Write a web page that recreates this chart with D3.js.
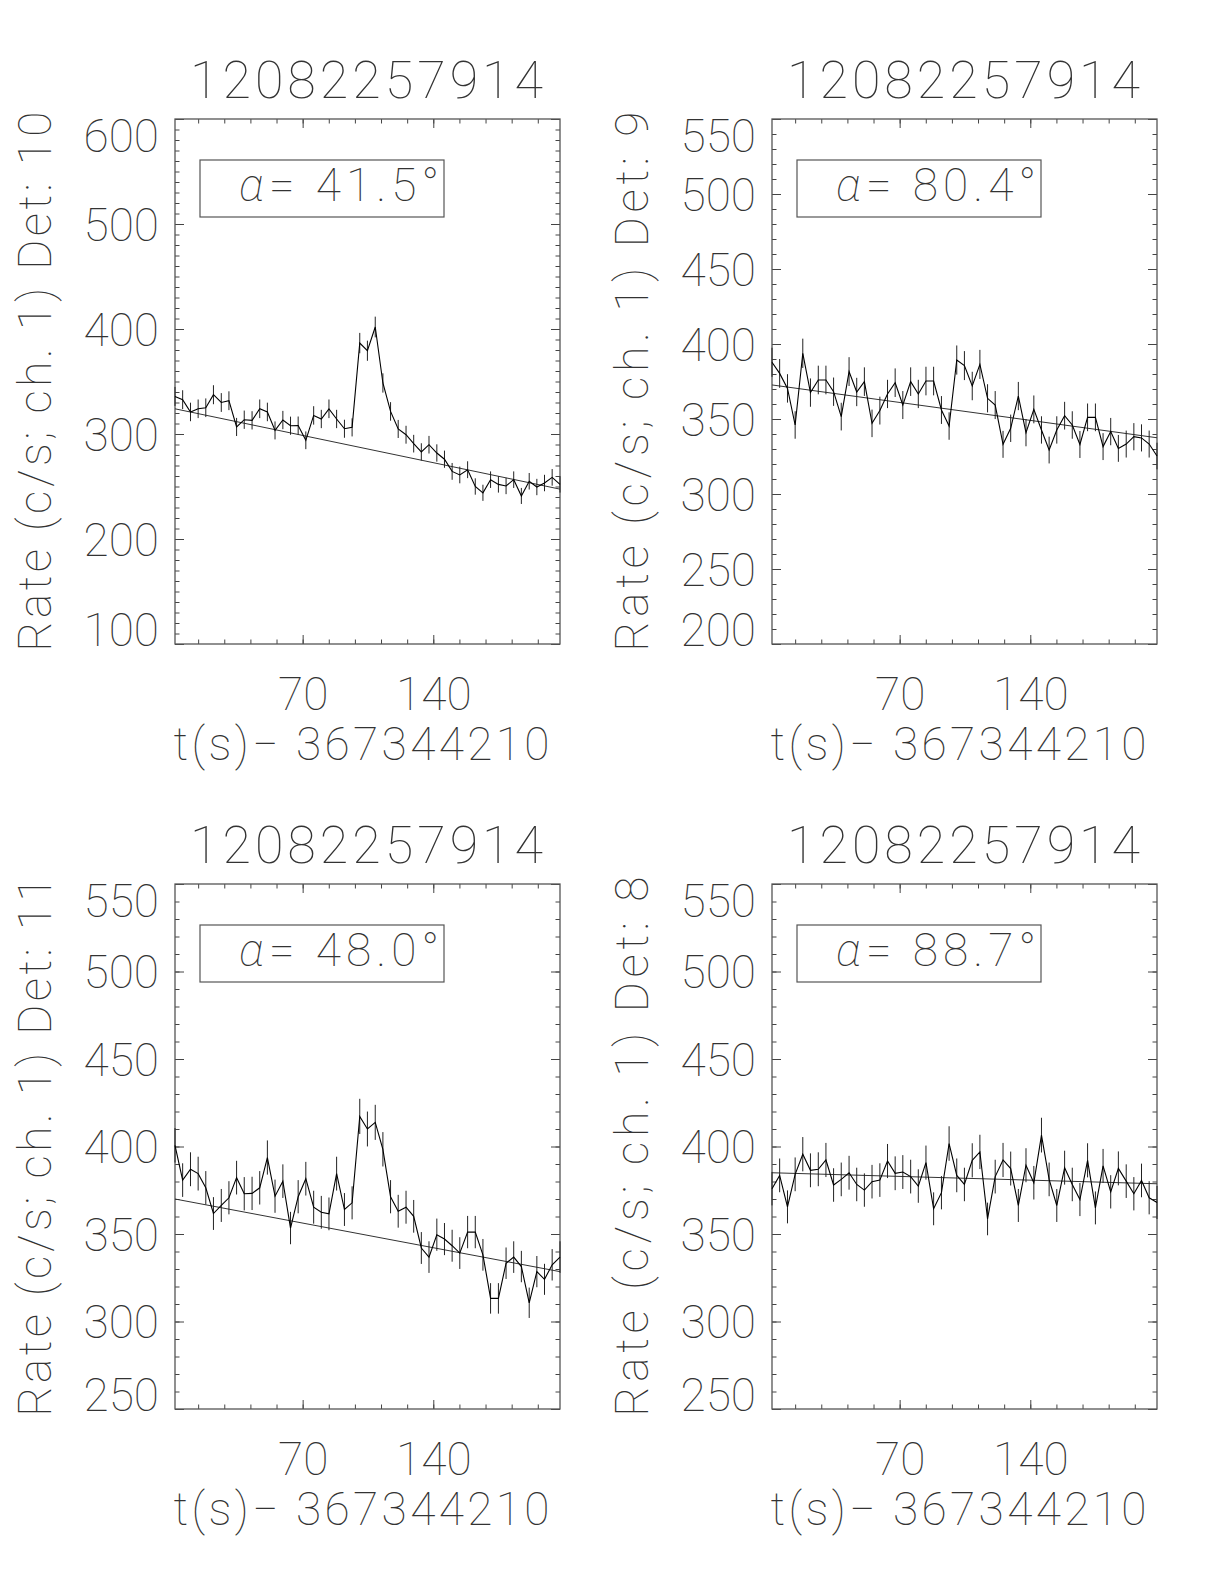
<!DOCTYPE html>
<html>
<head>
<meta charset="utf-8">
<script src="https://cdn.jsdelivr.net/npm/d3@7"></script>
<style>
  body { margin: 0; background: #fff; }
  svg text { font-family: Roboto, "Open Sans", Lato, "DejaVu Sans", sans-serif; font-weight: 100; fill: #333; }
</style>
</head>
<body>
<svg id="chart" width="1224" height="1584"></svg>
<script>
// ---------------- data ----------------
const times = [1.6, 5.7, 9.9, 14.0, 18.1, 22.2, 26.4, 30.5, 34.6, 38.7,
  42.9, 47.0, 51.1, 55.2, 59.4, 63.5, 67.6, 71.7, 75.9, 80.0,
  84.1, 88.2, 92.4, 96.5, 100.6, 104.7, 108.9, 113.0, 117.1, 121.2,
  125.4, 129.5, 133.6, 137.7, 141.9, 146.0, 150.1, 154.2, 158.4, 162.5,
  166.6, 170.7, 174.9, 179.0, 183.1, 187.2, 191.4, 195.5, 199.6, 203.7, 207.9];

const rateDet10 = [335.8, 332.7, 321, 324, 325, 337.4, 330, 331.7, 306.7, 313.6,
  313, 324, 321, 303.4, 313.3, 307.9, 308, 294, 317.7, 314.3,
  324, 314.3, 305, 306.3, 386.6, 379.3, 401.9, 348.6, 321.5, 304.8,
  299.3, 290.8, 282.9, 289.8, 281.9, 276, 264.4, 261, 266, 250,
  244, 256.5, 252, 250.5, 256.5, 241, 255, 249.5, 253.3, 258.7, 252];

const rateDet9 = [387.8, 380.4, 370.4, 346, 393.8, 367.6, 376, 376, 368.2, 351.6,
  381.6, 368, 374.9, 347.1, 355.6, 366.7, 374.2, 359.3, 374.9, 366.7,
  375.3, 375.3, 356, 345.3, 389.3, 385.6, 372, 386.4, 363.8, 359.3,
  333.1, 343.8, 365.3, 340.9, 356.4, 342.7, 329.3, 342.7, 352.2, 346,
  333, 351.1, 351.1, 331.6, 341.6, 330.4, 333.3, 338.2, 337.4, 333.3, 325.3];

const rateDet11 = [400.7, 380.8, 387, 384.5, 376.4, 361.7, 366.3, 370.7, 382.2, 373,
  373.2, 376.4, 393.7, 371.6, 380.2, 353.4, 371.3, 381.6, 365.3, 362.4,
  361.5, 384.5, 364, 367.8, 417.2, 410, 413.8, 398.4, 371.3, 363,
  365.3, 360.1, 342, 336.8, 349.6, 347.1, 343.3, 339.1, 351.1, 351.1,
  338.1, 313.2, 313.2, 333.3, 336.8, 331.4, 310.7, 328.5, 324.1, 332.4, 336.8];

const rateDet8 = [375.9, 383.5, 365.5, 384.1, 395.6, 386.4, 387, 392.3, 378, 381.2,
  385, 378.3, 375.1, 379.9, 380.8, 391.7, 384.7, 385.4, 382.8, 377.4,
  390.8, 364.4, 373.6, 401.7, 383.5, 378.3, 392.1, 396.9, 358.6, 382.8,
  392.3, 387.4, 366.3, 389.3, 379.3, 406.5, 381.2, 366.3, 387.9, 378.3,
  369.7, 392.1, 364.9, 388.9, 374.1, 387.5, 380.2, 373, 380.6, 370.7, 368];

const detectors = ["10", "9", "11", "8"];
const alphaLabels = ["41.5", "80.4", "48.0", "88.7"];
const yMin = [100, 200, 250, 250];
const yMax = [600, 550, 550, 550];
const yMajorStep = [100, 50, 50, 50];
const yMinorStep = 10;
const fitStart = [324, 372.7, 370, 385];
const fitEnd = [247.5, 337.5, 328.5, 378.7];
const xMajorTicks = [70, 140];
const xMinorStep = 14;
const obsId = "12082257914";
const timeOffset = "367344210";
const binWidth = 4.125;

const series = [rateDet10, rateDet9, rateDet11, rateDet8];

// ---------------- layout ----------------
const origins = [[175, 119], [772, 119], [175, 884], [772, 884]];
const W = 385, H = 525;
const labelSize = 46, titleSize = 52;

const svg = d3.select("#chart");

series.forEach((rates, i) => {
  const [ox, oy] = origins[i];
  const g = svg.append("g").attr("transform", `translate(${ox},${oy})`);

  const x = d3.scaleLinear().domain([times[0], times[times.length - 1]]).range([0, W]);
  const y = d3.scaleLinear().domain([yMin[i], yMax[i]]).range([H, 0]);

  const xMinor = d3.range(xMinorStep, times[times.length - 1], xMinorStep);
  const yMinor = d3.range(yMin[i], yMax[i] + 0.001, yMinorStep);
  const yMajor = d3.range(yMin[i], yMax[i] + 0.001, yMajorStep[i]);

  const tickColor = "#444";
  function styleAxis(sel) {
    sel.select(".domain").remove();
    sel.attr("font-family", null).attr("font-size", null);
    sel.selectAll(".tick line").attr("stroke", tickColor).attr("stroke-width", 1);
  }

  // minor ticks, all four sides (pointing inward)
  g.append("g").attr("transform", `translate(0,${H})`)
    .call(d3.axisBottom(x).tickValues(xMinor).tickSize(-4.5).tickFormat("")).call(styleAxis);
  g.append("g")
    .call(d3.axisTop(x).tickValues(xMinor).tickSize(-4.5).tickFormat("")).call(styleAxis);
  g.append("g")
    .call(d3.axisLeft(y).tickValues(yMinor).tickSize(-4.5).tickFormat("")).call(styleAxis);
  g.append("g").attr("transform", `translate(${W},0)`)
    .call(d3.axisRight(y).tickValues(yMinor).tickSize(-4.5).tickFormat("")).call(styleAxis);

  // major ticks with labels
  const xb = g.append("g").attr("transform", `translate(0,${H})`)
    .call(d3.axisBottom(x).tickValues(xMajorTicks).tickSize(-9).tickFormat(d3.format("d"))).call(styleAxis);
  xb.selectAll("text").attr("y", 66).attr("dy", null)
    .attr("font-size", labelSize).attr("fill", "#333");

  g.append("g")
    .call(d3.axisTop(x).tickValues(xMajorTicks).tickSize(-9).tickFormat("")).call(styleAxis);

  const yl = g.append("g")
    .call(d3.axisLeft(y).tickValues(yMajor).tickSize(-9).tickFormat(d3.format("d"))).call(styleAxis);
  const cap = labelSize * 0.711;
  yl.selectAll("text")
    .attr("x", -16)
    .attr("font-size", labelSize)
    .attr("fill", "#333")
    .attr("dy", d => d === yMax[i] ? cap : (d === yMin[i] ? 1 : cap / 2));

  g.append("g").attr("transform", `translate(${W},0)`)
    .call(d3.axisRight(y).tickValues(yMajor).tickSize(-9).tickFormat("")).call(styleAxis);

  // frame
  g.append("rect").attr("x", 0).attr("y", 0).attr("width", W).attr("height", H)
    .attr("fill", "none").attr("stroke", "#555").attr("stroke-width", 1.3);

  // fit line
  const fitLine = d3.line().x(d => x(d[0])).y(d => y(d[1]));
  g.append("path")
    .datum([[times[0], fitStart[i]], [times[times.length - 1], fitEnd[i]]])
    .attr("d", fitLine).attr("fill", "none").attr("stroke", "#333").attr("stroke-width", 1);

  // error bars
  g.append("g").selectAll("line").data(rates).join("line")
    .attr("x1", (d, k) => x(times[k])).attr("x2", (d, k) => x(times[k]))
    .attr("y1", d => y(d - Math.sqrt(d / binWidth)))
    .attr("y2", d => y(d + Math.sqrt(d / binWidth)))
    .attr("stroke", "#222").attr("stroke-width", 1);

  // light curve
  const lc = d3.line().x((d, k) => x(times[k])).y(d => y(d));
  g.append("path").datum(rates).attr("d", lc)
    .attr("fill", "none").attr("stroke", "#000").attr("stroke-width", 1.1);

  // title
  g.append("text").attr("x", W / 2 - 1).attr("y", -21)
    .attr("text-anchor", "middle").attr("font-size", titleSize)
    .attr("textLength", 353).attr("lengthAdjust", "spacing")
    .text(obsId);

  // x axis title
  g.append("text").attr("x", W / 2 - 6).attr("y", H + 116)
    .attr("text-anchor", "middle").attr("font-size", labelSize)
    .attr("textLength", 376).attr("lengthAdjust", "spacing")
    .text("t(s)\u2212 " + timeOffset);

  // y axis title
  g.append("text")
    .attr("transform", `translate(-124,${H / 2}) rotate(-90)`)
    .attr("text-anchor", "middle").attr("font-size", labelSize)
    .attr("textLength", 540).attr("lengthAdjust", "spacing")
    .text("Rate (c/s; ch. 1) Det: " + detectors[i]);

  // alpha box
  g.append("rect").attr("x", 25).attr("y", 41).attr("width", 244).attr("height", 57)
    .attr("fill", "none").attr("stroke", "#555").attr("stroke-width", 1.2);
  const at = g.append("text").attr("x", 64).attr("y", 82).attr("font-size", labelSize)
    .attr("textLength", 200).attr("lengthAdjust", "spacing");
  at.append("tspan").attr("font-style", "italic").text("\u03b1");
  at.append("tspan").text("= " + alphaLabels[i] + "\u00b0");
});
</script>
</body>
</html>
